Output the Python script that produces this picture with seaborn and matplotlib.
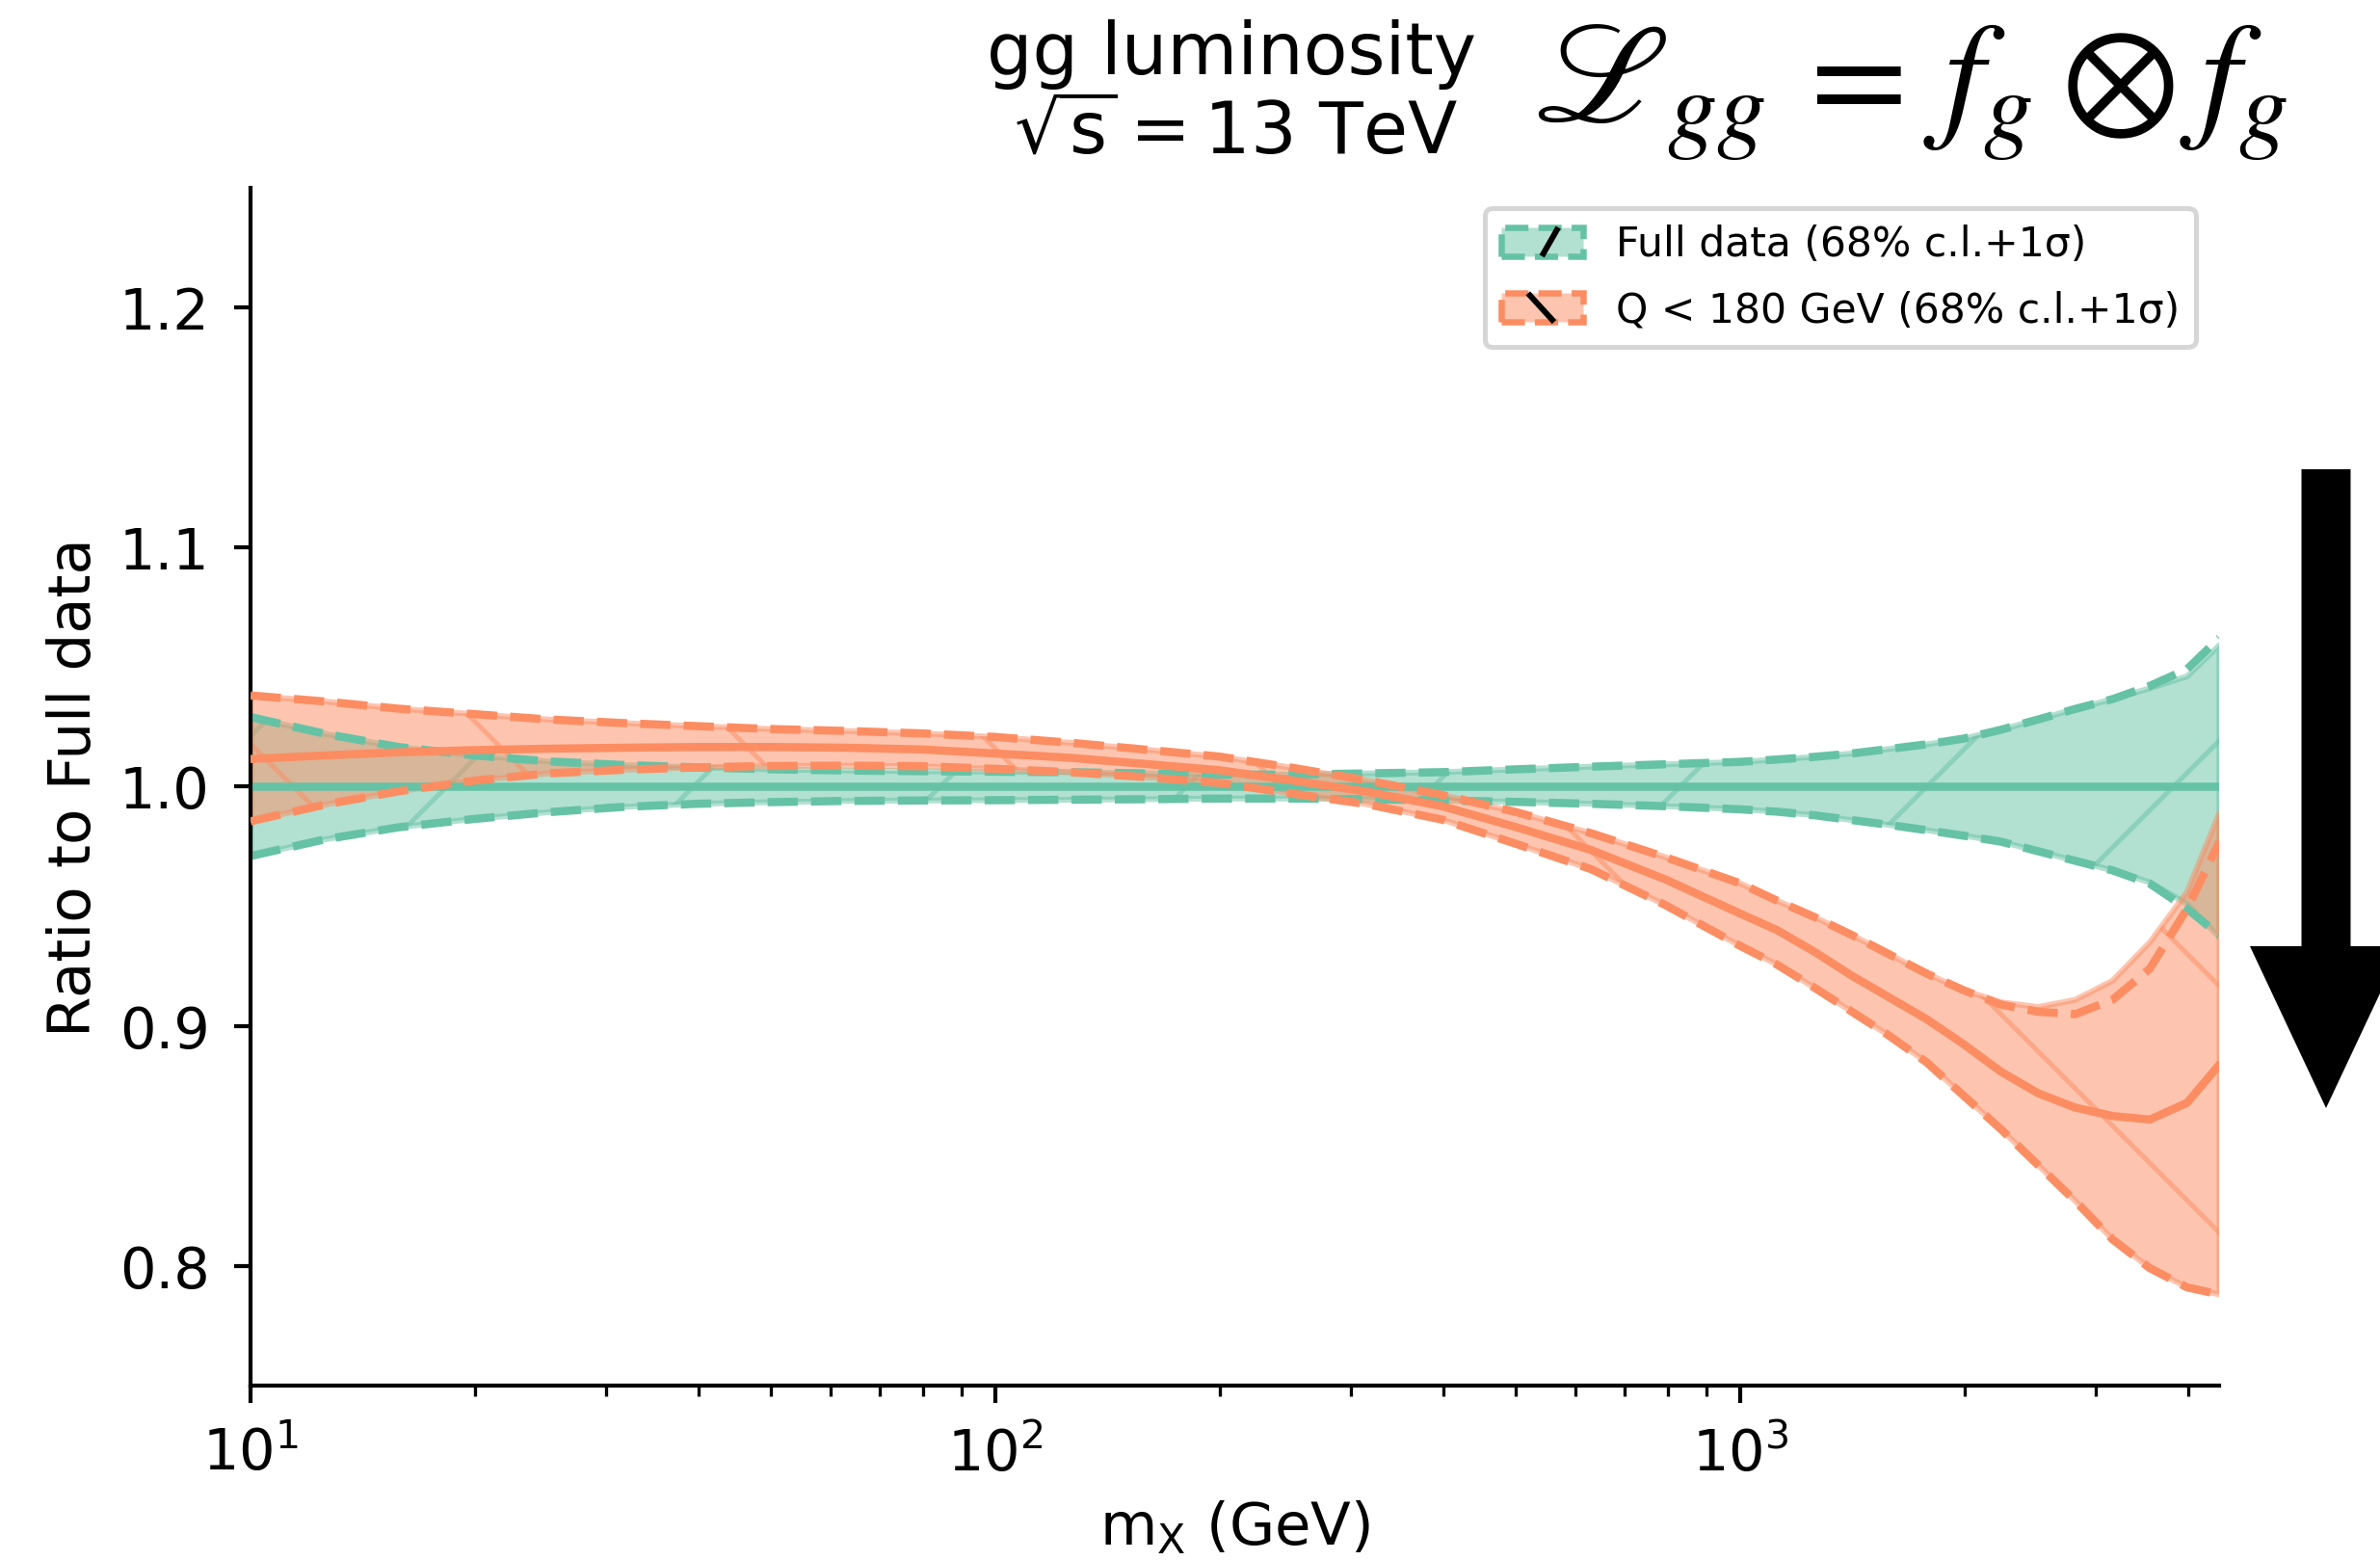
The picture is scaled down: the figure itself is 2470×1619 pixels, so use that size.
import matplotlib
matplotlib.use("Agg")
import matplotlib.pyplot as plt
import matplotlib.patches as mpatches
from matplotlib.lines import Line2D
from matplotlib.colors import to_rgba
from matplotlib.legend_handler import HandlerBase
import seaborn as sns

# ---------------- data ----------------
mx = [10, 12.6, 15.8, 20.0, 25.1, 31.6, 39.8, 50.1, 63.1, 79.4,
      100, 126, 158, 200, 251, 316, 398, 501, 631, 794,
      1000, 1122, 1259, 1413, 1585, 1778, 1995, 2239, 2512, 2818,
      3162, 3548, 3981, 4400]

full_central = [1.0, 1.0, 1.0, 1.0, 1.0, 1.0, 1.0, 1.0, 1.0, 1.0,
                1.0, 1.0, 1.0, 1.0, 1.0, 1.0, 1.0, 1.0, 1.0, 1.0,
                1.0, 1.0, 1.0, 1.0, 1.0, 1.0, 1.0, 1.0, 1.0, 1.0,
                1.0, 1.0, 1.0, 1.0]
full_sig_hi = [1.029, 1.022, 1.0165, 1.013, 1.0105, 1.009, 1.008, 1.0072, 1.0067, 1.0064,
               1.0062, 1.006, 1.0055, 1.005, 1.005, 1.0055, 1.006, 1.0072, 1.0083, 1.0093,
               1.0103, 1.0113, 1.0124, 1.0138, 1.0157, 1.0176, 1.020, 1.0237, 1.028, 1.0324,
               1.0365, 1.042, 1.049, 1.062]
full_sig_lo = [0.971, 0.978, 0.983, 0.9865, 0.9893, 0.9915, 0.9928, 0.9935, 0.994, 0.9942,
               0.9943, 0.9945, 0.9947, 0.995, 0.995, 0.9947, 0.9942, 0.9936, 0.9928, 0.9918,
               0.9905, 0.9895, 0.988, 0.986, 0.984, 0.9818, 0.9795, 0.977, 0.973, 0.969,
               0.965, 0.9595, 0.949, 0.938]
full_cl_hi = [1.029, 1.022, 1.0165, 1.013, 1.0105, 1.009, 1.008, 1.0072, 1.0067, 1.0064,
              1.0062, 1.006, 1.0055, 1.005, 1.005, 1.0055, 1.006, 1.0072, 1.0083, 1.0093,
              1.0103, 1.0113, 1.0124, 1.0138, 1.0157, 1.0176, 1.020, 1.0237, 1.028, 1.0324,
              1.0365, 1.041, 1.046, 1.059]
full_cl_lo = [0.971, 0.978, 0.983, 0.9865, 0.9893, 0.9915, 0.9928, 0.9935, 0.994, 0.9942,
              0.9943, 0.9945, 0.9947, 0.995, 0.995, 0.9947, 0.9942, 0.9936, 0.9928, 0.9918,
              0.9905, 0.9895, 0.988, 0.986, 0.984, 0.9818, 0.9795, 0.977, 0.973, 0.969,
              0.965, 0.960, 0.951, 0.937]

q180_central = [1.0115, 1.013, 1.0143, 1.0152, 1.0158, 1.0162, 1.0165, 1.0165, 1.0162, 1.0155,
                1.0138, 1.012, 1.0095, 1.0068, 1.0025, 0.9978, 0.9918, 0.983, 0.9735, 0.9612,
                0.947, 0.940, 0.931, 0.921, 0.912, 0.903, 0.8925, 0.881, 0.872, 0.866,
                0.8625, 0.861, 0.868, 0.884]
q180_sig_hi = [1.038, 1.0355, 1.0325, 1.0302, 1.028, 1.0265, 1.0252, 1.024, 1.0232, 1.0222,
               1.0207, 1.0183, 1.0155, 1.0125, 1.0078, 1.0025, 0.9965, 0.9893, 0.9805, 0.9705,
               0.9596, 0.9523, 0.9455, 0.938, 0.930, 0.922, 0.915, 0.909, 0.906, 0.905,
               0.911, 0.924, 0.949, 0.977]
q180_sig_lo = [0.9855, 0.9925, 0.998, 1.0025, 1.0055, 1.007, 1.008, 1.0086, 1.0087, 1.0085,
               1.0074, 1.006, 1.004, 1.0015, 0.997, 0.9926, 0.9862, 0.976, 0.9655, 0.9505,
               0.9335, 0.9256, 0.916, 0.906, 0.896, 0.885, 0.871, 0.857, 0.842, 0.827,
               0.811, 0.799, 0.791, 0.788]
q180_cl_hi = [1.038, 1.0355, 1.0325, 1.0302, 1.028, 1.0265, 1.0252, 1.024, 1.0232, 1.0222,
              1.0207, 1.0183, 1.0155, 1.0125, 1.0078, 1.0025, 0.9965, 0.9893, 0.9805, 0.9705,
              0.9596, 0.9523, 0.9455, 0.938, 0.930, 0.922, 0.915, 0.910, 0.908, 0.911,
              0.919, 0.935, 0.956, 0.989]
q180_cl_lo = [0.9855, 0.9925, 0.998, 1.0025, 1.0055, 1.007, 1.008, 1.0086, 1.0087, 1.0085,
              1.0074, 1.006, 1.004, 1.0015, 0.997, 0.9926, 0.9862, 0.976, 0.9655, 0.9505,
              0.9335, 0.9256, 0.916, 0.906, 0.896, 0.885, 0.871, 0.857, 0.842, 0.827,
              0.811, 0.799, 0.791, 0.788]

labels = ["Full data (68% c.l.+1σ)", "Q < 180 GeV (68% c.l.+1σ)"]
yticks = [0.8, 0.9, 1.0, 1.1, 1.2]
ytick_labels = ["0.8", "0.9", "1.0", "1.1", "1.2"]

# ---------------- style ----------------
DPI = 768
W, H = 2470, 1619


def pt(px):
    """pixel size -> points at the output dpi"""
    return px * 72.0 / DPI


sns.set_style("ticks")
plt.rcParams.update({
    "font.family": ["DejaVu Sans"],
    "axes.edgecolor": "black",
    "axes.labelcolor": "black",
    "text.color": "black",
    "xtick.color": "black",
    "ytick.color": "black",
    "hatch.linewidth": pt(5),
    "patch.linewidth": pt(5),
})

green, orange = sns.color_palette("Set2")[0], sns.color_palette("Set2")[1]

fig = plt.figure(figsize=((W + 0.4) / DPI, (H + 0.4) / DPI), dpi=DPI)
ax = fig.add_axes([260 / W, 1 - 1438 / H, (2303 - 260) / W, (1438 - 195) / H])

# bands
ax.fill_between(mx, full_cl_lo, full_cl_hi, color=green, alpha=0.5,
                hatch="/", lw=pt(6), zorder=1)
ax.fill_between(mx, q180_cl_lo, q180_cl_hi, color=orange, alpha=0.5,
                hatch="\\", lw=pt(6), zorder=1.1)

# lines
for cen, hi, lo, c, z in [(full_central, full_sig_hi, full_sig_lo, green, 2),
                          (q180_central, q180_sig_hi, q180_sig_lo, orange, 3)]:
    sns.lineplot(x=mx, y=cen, color=c, lw=pt(8.5), ax=ax, zorder=z, legend=False)
    sns.lineplot(x=mx, y=hi, color=c, lw=pt(8.5), ls="--", ax=ax, zorder=z, legend=False)
    sns.lineplot(x=mx, y=lo, color=c, lw=pt(8.5), ls="--", ax=ax, zorder=z, legend=False)

ax.set_xscale("log")
ax.set_xlim(10, 4400)
ax.set_ylim(0.75, 1.25)
ax.set_yticks(yticks)
ax.set_yticklabels(ytick_labels)
ax.set_xlabel(r"m$_{\mathrm{X}}$ (GeV)", fontsize=pt(61), labelpad=pt(17))
ax.set_ylabel("Ratio to Full data", fontsize=pt(61), labelpad=pt(17))
ax.tick_params(axis="both", which="major", length=pt(17.5), width=pt(4.2),
               labelsize=pt(59), pad=pt(25))
ax.tick_params(axis="both", which="minor", length=pt(11), width=pt(3.3))
sns.despine(ax=ax)
for s in ("left", "bottom"):
    ax.spines[s].set_linewidth(pt(4.2))


# legend: band swatch with dashed edge and one black hatch stroke
class BandHandler(HandlerBase):
    def __init__(self, color, forward):
        super().__init__()
        self.color = color
        self.forward = forward

    def create_artists(self, legend, orig_handle, xdescent, ydescent,
                       width, height, fontsize, trans):
        x0, y0 = -xdescent, -ydescent
        rect = mpatches.Rectangle((x0, y0), width, height,
                                  facecolor=to_rgba(self.color, 0.5),
                                  edgecolor=self.color, linestyle="--",
                                  linewidth=pt(6.5), transform=trans)
        if self.forward:
            xs = [x0 + 0.50 * width, x0 + 0.70 * width]
            ys = [y0, y0 + height]
        else:
            xs = [x0 + 0.33 * width, x0 + 0.65 * width]
            ys = [y0 + height, y0]
        stroke = Line2D(xs, ys, color="black", lw=pt(6), transform=trans,
                        solid_capstyle="butt")
        return [rect, stroke]


h_full = mpatches.Patch(facecolor=green)
h_q180 = mpatches.Patch(facecolor=orange)
leg = ax.legend([h_full, h_q180], labels,
                loc="upper right", bbox_to_anchor=(0.988, 0.983), borderaxespad=0,
                fontsize=pt(42.5), frameon=True, labelspacing=0.62,
                handler_map={h_full: BandHandler(green, True),
                             h_q180: BandHandler(orange, False)})
leg.get_frame().set_linewidth(pt(5))
leg.get_frame().set_edgecolor("0.8")

# titles
fig.text(1278 / W, 1 - 77 / H, "gg luminosity", ha="center",
         va="baseline", fontsize=pt(75))
fig.text(1283 / W, 1 - 160 / H, r"$\sqrt{\mathrm{s}} = 13$ TeV",
         ha="center", va="baseline", fontsize=pt(75))
fig.text(1591 / W, 1 - 126 / H, "$ℒ_{gg}\\,=\\,f_g \\otimes f_g$",
         ha="left", va="baseline", fontsize=pt(147), math_fontfamily="stix")

# arrow (figure pixels -> inches)
tip_y = (H - 1150) / DPI
top_y = (H - 487) / DPI
arrow = mpatches.FancyArrow(2414 / DPI, top_y, 0, tip_y - top_y,
                            width=51 / DPI, head_width=158 / DPI,
                            head_length=168 / DPI, length_includes_head=True,
                            color="black", lw=0, transform=fig.dpi_scale_trans)
fig.add_artist(arrow)

fig.savefig("out.png", dpi=DPI)
